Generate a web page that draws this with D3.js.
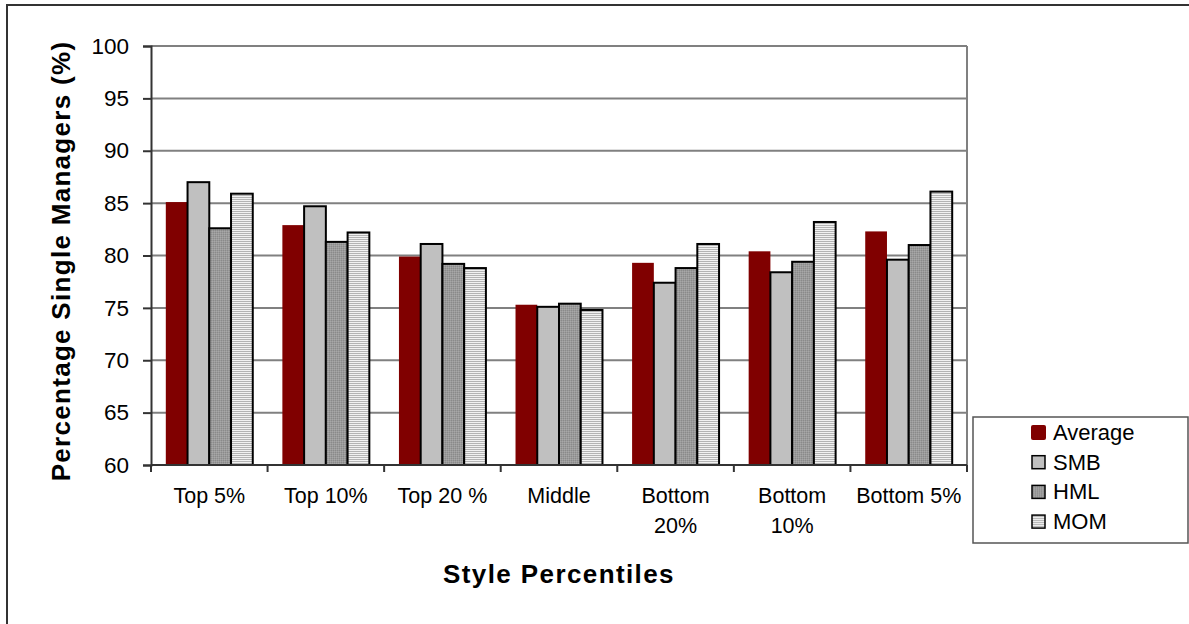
<!DOCTYPE html>
<html>
<head>
<meta charset="utf-8">
<script src="https://cdn.jsdelivr.net/npm/d3@7"></script>
<style>
  body { margin: 0; background: #fff; }
  svg { display: block; font-family: Arial, "Liberation Sans", sans-serif; }
</style>
</head>
<body>
<div id="chart"></div>
<script>
// categories, series and values
const categories = ["Top 5%", "Top 10%", "Top 20 %", "Middle", "Bottom 20%", "Bottom 10%", "Bottom 5%"];
const catLines = [["Top 5%"], ["Top 10%"], ["Top 20 %"], ["Middle"], ["Bottom", "20%"], ["Bottom", "10%"], ["Bottom 5%"]];
const series = ["Average", "SMB", "HML", "MOM"];
const average = [85.1, 82.9, 79.9, 75.3, 79.3, 80.4, 82.3];
const smb     = [87.0, 84.7, 81.1, 75.1, 77.4, 78.4, 79.6];
const hml     = [82.6, 81.3, 79.2, 75.4, 78.8, 79.4, 81.0];
const mom     = [85.9, 82.2, 78.8, 74.8, 81.1, 83.2, 86.1];
const yTicks  = [60, 65, 70, 75, 80, 85, 90, 95, 100];

const values = { Average: average, SMB: smb, HML: hml, MOM: mom };

const W = 1189, H = 624;
const margin = { top: 46, left: 151, right: 222, bottom: 159 };
const w = W - margin.left - margin.right;
const h = H - margin.top - margin.bottom;

const svg = d3.select("#chart").append("svg")
  .attr("width", W).attr("height", H);

/* patterns for the hatched bars */
const defs = svg.append("defs");
const dots = defs.append("pattern").attr("id", "pat-hml")
  .attr("width", 2).attr("height", 2).attr("patternUnits", "userSpaceOnUse");
dots.append("rect").attr("width", 2).attr("height", 2).attr("fill", "#9a9a9a");
dots.append("rect").attr("width", 1).attr("height", 1).attr("fill", "#8a8a8a");
dots.append("rect").attr("x", 1).attr("y", 1).attr("width", 1).attr("height", 1).attr("fill", "#a8a8a8");

const stripes = defs.append("pattern").attr("id", "pat-mom")
  .attr("width", 4).attr("height", 2).attr("patternUnits", "userSpaceOnUse");
stripes.append("rect").attr("width", 4).attr("height", 2).attr("fill", "#f2f2f2");
stripes.append("rect").attr("y", 1).attr("width", 4).attr("height", 1).attr("fill", "#b4b4b4");

const fills = { Average: "#800000", SMB: "#c0c0c0", HML: "url(#pat-hml)", MOM: "url(#pat-mom)" };

// outer frame (cut off at right / bottom like the picture)
svg.append("rect").attr("x", 7).attr("y", 5).attr("width", W + 10).attr("height", H + 10)
  .attr("fill", "none").attr("stroke", "#333").attr("stroke-width", 2);

const g = svg.append("g").attr("transform", `translate(${margin.left},${margin.top})`);

const x0 = d3.scaleBand().domain(categories).range([0, w]).padding(0);
const inset = x0.bandwidth() * 0.127;
const x1 = d3.scaleBand().domain(series).range([inset, x0.bandwidth() - inset]).padding(0);
const y = d3.scaleLinear().domain([60, 100]).range([h, 0]);

// gridlines
g.append("g").selectAll("line").data(yTicks.filter(d => d > 60)).enter().append("line")
  .attr("x1", 0).attr("x2", w).attr("y1", d => y(d)).attr("y2", d => y(d))
  .attr("stroke", "#808080").attr("stroke-width", 2);

// plot area right border
g.append("line").attr("x1", w).attr("x2", w).attr("y1", 0).attr("y2", h)
  .attr("stroke", "#808080").attr("stroke-width", 2);

// bars
series.forEach(s => {
  g.append("g").selectAll("rect").data(categories).enter().append("rect")
    .attr("x", (c) => x0(c) + x1(s))
    .attr("y", (c, i) => y(values[s][i]))
    .attr("width", x1.bandwidth())
    .attr("height", (c, i) => h - y(values[s][i]))
    .attr("fill", fills[s])
    .attr("stroke", s === "Average" ? "none" : "#000")
    .attr("stroke-width", 2);
});

// y axis
const yAxis = g.append("g")
  .call(d3.axisLeft(y).tickValues(yTicks).tickSize(8).tickPadding(14));
yAxis.select(".domain").attr("stroke", "#333").attr("stroke-width", 2);
yAxis.selectAll(".tick line").attr("stroke", "#333").attr("stroke-width", 2);
yAxis.selectAll("text").style("font-size", "22.5px").attr("fill", "#000");

// x axis: ticks at group boundaries
const xAxis = g.append("g").attr("transform", `translate(0,${h})`);
xAxis.append("line").attr("x1", 0).attr("x2", w).attr("stroke", "#333").attr("stroke-width", 2);
xAxis.selectAll("line.tk").data(categories.concat([null])).enter().append("line").attr("class", "tk")
  .attr("x1", (c, i) => i * x0.step()).attr("x2", (c, i) => i * x0.step())
  .attr("y1", 0).attr("y2", 7).attr("stroke", "#333").attr("stroke-width", 2);
const labels = xAxis.selectAll("text.cat").data(catLines).enter().append("text").attr("class", "cat")
  .attr("text-anchor", "middle").style("font-size", "21.5px").attr("fill", "#000")
  .attr("transform", (d, i) => `translate(${x0(categories[i]) + x0.bandwidth() / 2},38)`);
labels.selectAll("tspan").data(d => d).enter().append("tspan")
  .attr("x", 0).attr("y", (d, i) => i * 30).text(d => d);

// axis titles
svg.append("text").attr("x", 559).attr("y", 583).attr("text-anchor", "middle")
  .style("font-size", "26px").style("font-weight", "bold").style("letter-spacing", "1.4px")
  .text("Style Percentiles");
svg.append("text").attr("transform", "translate(70,261) rotate(-90)").attr("text-anchor", "middle")
  .style("font-size", "26px").style("font-weight", "bold").style("letter-spacing", "1.3px")
  .text("Percentage Single Managers (%)");

// legend
const legend = svg.append("g").attr("transform", "translate(973,417)");
legend.append("rect").attr("width", 215).attr("height", 126)
  .attr("fill", "#fff").attr("stroke", "#555").attr("stroke-width", 1.5);
series.forEach((s, i) => {
  const row = legend.append("g").attr("transform", `translate(0,${15 + i * 29.7})`);
  if (s === "Average") {
    row.append("rect").attr("x", 58).attr("y", -7).attr("width", 15).attr("height", 15).attr("rx", 2)
      .attr("fill", fills[s]);
  } else {
    row.append("rect").attr("x", 59).attr("y", -6).attr("width", 13).attr("height", 13)
      .attr("fill", fills[s]).attr("stroke", "#000").attr("stroke-width", 1.5);
  }
  row.append("text").attr("x", 80).attr("y", 8).style("font-size", "22px").text(s);
});
</script>
</body>
</html>
